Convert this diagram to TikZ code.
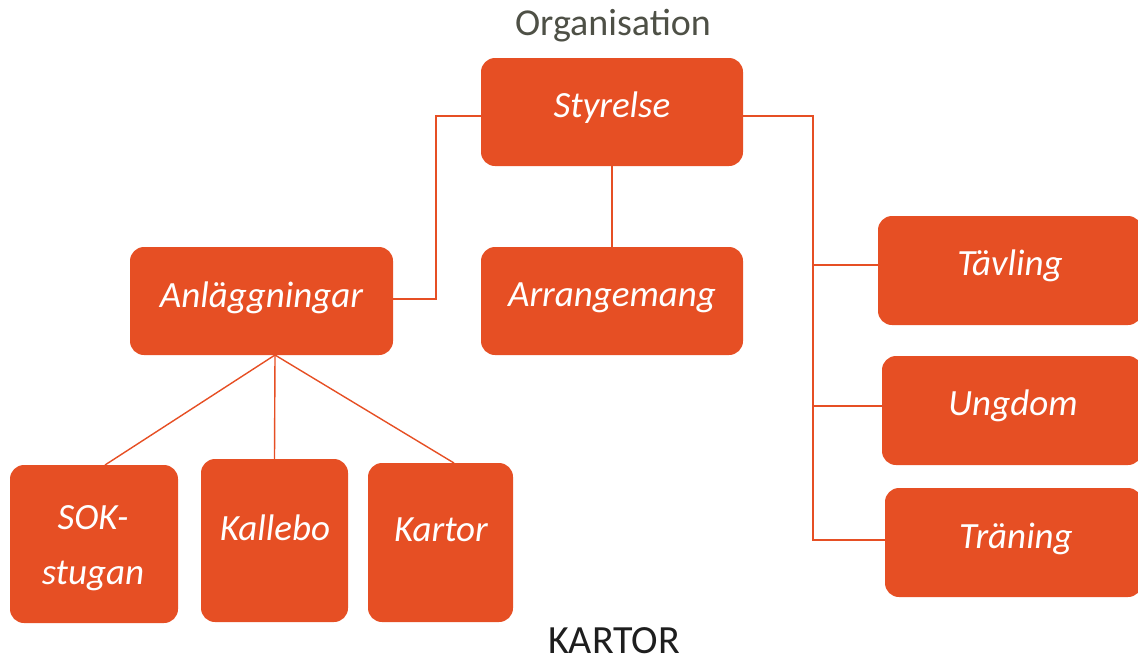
\documentclass[tikz,border=0pt]{standalone}
\usepackage{fontspec}
\setmainfont{Carlito}
\definecolor{boxorange}{HTML}{E64F24}
\definecolor{titlegray}{HTML}{4E5046}
\definecolor{darktext}{HTML}{1E1E1E}
\begin{document}
\begin{tikzpicture}[x=1pt,y=-1pt,
  orgbox/.style={fill=boxorange, draw=none, rounded corners=14pt, inner sep=0pt},
  lbl/.style={text=white, font=\fontsize{37}{44}\selectfont\itshape, inner sep=0pt, align=center},
  link/.style={draw=boxorange, line width=1.4pt}]
\path[use as bounding box] (0,0) rectangle (1138,665);

\node[font=\fontsize{38}{44}\selectfont, text=titlegray] (title) at (613,26) {Organisation};
\node[font=\fontsize{40}{48}\selectfont, text=darktext, anchor=base, inner sep=0pt, text depth=0pt] (kartortitle) at (614,653) {KARTOR};

% boxes
\node[orgbox, minimum width=262pt, minimum height=108pt] (sty) at (612,112) {};
\node[orgbox, minimum width=263pt, minimum height=108pt] (anl) at (261.5,301) {};
\node[orgbox, minimum width=262pt, minimum height=108pt] (arr) at (612,301) {};
\node[orgbox, minimum width=264pt, minimum height=109pt] (tav) at (1010,270.5) {};
\node[orgbox, minimum width=260pt, minimum height=109pt] (ung) at (1012,410.5) {};
\node[orgbox, minimum width=257pt, minimum height=109pt] (tra) at (1013.5,542.5) {};
\node[orgbox, minimum width=168pt, minimum height=158pt] (sok) at (94,544) {};
\node[orgbox, minimum width=147pt, minimum height=163pt] (kal) at (274.5,540.5) {};
\node[orgbox, minimum width=145pt, minimum height=159pt] (kar) at (440.5,542.5) {};

% labels
\node[lbl] (styl) at (612,108) {Styrelse};
\node[lbl] (anll) at (261.5,298) {Anläggningar};
\node[lbl] (arrl) at (612,298) {Arrangemang};
\node[lbl] (tavl) at (1010,266) {Tävling};
\node[lbl] (ungl) at (1013,406) {Ungdom};
\node[lbl] (tral) at (1016,539) {Träning};
\node[lbl, font=\fontsize{37}{55}\selectfont\itshape] (sokl) at (93,548) {SOK-\\stugan};
\node[lbl] (kall) at (275,528) {Kallebo};
\node[lbl] (karl) at (441,530) {Kartor};

% connectors
\coordinate (jl) at (436,116);
\coordinate (jr) at (813,116);
\coordinate (anlb) at (275,355);
\draw[link] (sty.west |- jl) -- (jl) -- (436,299) -- (anl.east |- 0,299);
\draw[link] (sty.south) -- (arr.north);
\draw[link] (sty.east |- jr) -- (jr) -- (813,540) -- (tra.west |- 0,540);
\draw[link] (813,265) -- (tav.west |- 0,265);
\draw[link] (813,406) -- (ung.west |- 0,406);
\draw[link] (anlb) -- (105,465);
\draw[link] (anlb) -- (kal.north);
\draw[link] (anlb) -- (454,463);
\end{tikzpicture}
\end{document}
